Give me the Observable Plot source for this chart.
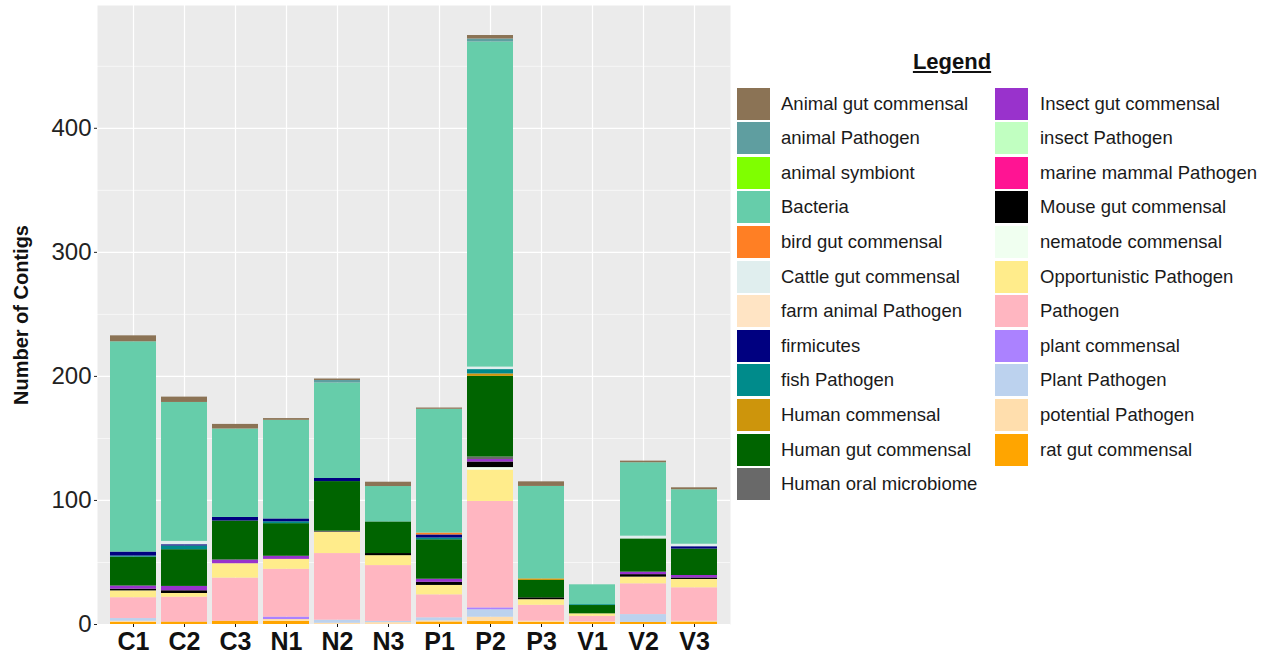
<!DOCTYPE html>
<html>
<head>
<meta charset="utf-8">
<script src="https://cdn.jsdelivr.net/npm/d3@7"></script>
<script src="https://cdn.jsdelivr.net/npm/@observablehq/plot@0.6"></script>
<style>
  html, body { margin: 0; padding: 0; background: #fff; }
  #wrap { position: relative; width: 1271px; height: 659px; overflow: hidden; font-family: "Liberation Sans", Arial, sans-serif; }
  #chart { position: absolute; left: 0; top: 0; }
  #legend-title { position: absolute; left: 952px; top: 49px; transform: translateX(-50%); font-size: 22px; font-weight: bold; text-decoration: underline; color: #111; }
  .sw { position: absolute; width: 33px; height: 32px; }
  .lab { position: absolute; font-size: 18.5px; color: #1a1a1a; line-height: 20px; white-space: nowrap; }
</style>
</head>
<body>
<div id="wrap">
  <div id="chart"></div>
  <div id="legend-title">Legend</div>
  <div id="legend"></div>
</div>
<script>
const samples = ["C1","C2","C3","N1","N2","N3","P1","P2","P3","V1","V2","V3"];
const categories = [
  "Animal gut commensal","animal Pathogen","animal symbiont","Bacteria","bird gut commensal",
  "Cattle gut commensal","farm animal Pathogen","firmicutes","fish Pathogen","Human commensal",
  "Human gut commensal","Human oral microbiome","Insect gut commensal","insect Pathogen",
  "marine mammal Pathogen","Mouse gut commensal","nematode commensal","Opportunistic Pathogen",
  "Pathogen","plant commensal","Plant Pathogen","potential Pathogen","rat gut commensal"
];
const colors = [
  "#8B7355","#5F9EA0","#7FFF00","#66CDAA","#FF7F24",
  "#E0EEEE","#FFE4C4","#000080","#008B8B","#CD950C",
  "#006400","#696969","#9932CC","#C1FFC1",
  "#FF1493","#000000","#F0FFF0","#FFEC8B",
  "#FFB6C1","#AB82FF","#BCD2EE","#FFDEAD","#FFA500"
];
// counts per sample, in the category order above
const C1 = [4.8,0,0,169.5,0,0,0,3.2,0.9,0,23.3,0,2.5,0,0,1.4,0,5.5,16.8,0,2.2,0.8,1.8];
const C2 = [4.3,0,0,112,0,2.7,0,1,3,0,29.6,0,3.5,0,0,2.2,0,3,20,0,0,0,2];
const C3 = [3.7,0,0,71.3,0,0,0,2.9,0,0,31.4,0,3,0,0,0,0,11.6,34.7,0,0,0,2.7];
const N1 = [1.4,0,0,79.5,0,0,0,2.3,1.5,0,26.3,0,2.5,0,0,0,0,8,38.5,2,0,1.5,2.5];
const N2 = [1.2,2,0,77,0,0,0,2.5,0,0,40,1,0,0,0,0,0,17,53.7,0,2.5,1,0];
const N3 = [3.5,0,0,28.5,0,0,0,0,0,0,25.5,0,0,0,0,1.7,0,8,45,0,1,1.5,0];
const P1 = [1,0,0,99.8,1.5,0,0,2.5,1.4,0,31.8,0,2.5,0,0,2.5,0,7.6,18.5,0,2.5,0.9,2];
const P2 = [2.8,2.4,0,262.1,0,2,0,0,3.5,2,65,2,2,0,0,4.5,2,25.3,85.8,1.5,6,3.5,2.4];
const P3 = [3.7,0,0,74.5,0,0,0,0,0,1.3,14,0,0,0,0,1.5,0,4.5,12.8,0,0,1,1.7];
const V1 = [0,0,0,16,0,0,0,0,0.7,0,6.7,0,0,0,0,0,0,2,4.5,0,0,0.4,1.7];
const V2 = [1.3,0,0,59.2,0,2.2,0,0,0,0,26.8,0,2,0,0,2,0,5.4,24.8,0,6.3,0,1.7];
const V3 = [1.6,0,0,43.9,0,2,0,1.9,0,0,21.3,0,2,0,0,1.2,0,6.7,27,0,0,0.6,2];
const yTicks = [0,100,200,300,400];
const yMinor = [50,150,250,350,450];
const yLabel = "Number of Contigs";

const bySample = {C1,C2,C3,N1,N2,N3,P1,P2,P3,V1,V2,V3};
const rows = [];
for (const s of samples) {
  // stack from the last category (bottom) to the first (top)
  for (let i = categories.length - 1; i >= 0; i--) {
    const v = bySample[s][i];
    if (v > 0) rows.push({sample: s, category: categories[i], count: v});
  }
}

const chart = Plot.plot({
  width: 740,
  height: 659,
  marginLeft: 97,
  marginRight: 10,
  marginTop: 5,
  marginBottom: 35,
  style: {fontFamily: "'Liberation Sans', Arial, sans-serif", background: "transparent", overflow: "visible"},
  x: {domain: samples, paddingInner: 0.1, paddingOuter: 0.15, label: null},
  y: {domain: [0, 499], label: null},
  color: {domain: categories, range: colors},
  marks: [
    Plot.frame({fill: "#EBEBEB", stroke: null}),
    Plot.gridY({ticks: yMinor, stroke: "#fff", strokeOpacity: 1, strokeWidth: 0.6}),
    Plot.gridY({ticks: yTicks, stroke: "#fff", strokeOpacity: 1, strokeWidth: 1.2}),
    Plot.gridX({stroke: "#fff", strokeOpacity: 1, strokeWidth: 1.2}),
    Plot.barY(rows, {x: "sample", y: "count", fill: "category", order: null}),
    Plot.axisY({ticks: yTicks, tickSize: 3, tickPadding: 3, fontSize: 24, color: "#222", label: null}),
    Plot.axisX({tickSize: 3, tickPadding: 5, fontSize: 25, fontWeight: "bold", color: "#111", label: null}),
    Plot.text([yLabel], {frameAnchor: "left", dx: -76, rotate: -90, fontSize: 20, fontWeight: "bold", fill: "#111", textAnchor: "middle", lineAnchor: "middle"})
  ]
});
document.getElementById("chart").appendChild(chart);

// legend, two columns filled top to bottom
const legend = document.getElementById("legend");
const perCol = 12;
categories.forEach((c, i) => {
  const col = Math.floor(i / perCol), row = i % perCol;
  const cy = 103.5 + row * 34.6;
  const sw = document.createElement("div");
  sw.className = "sw";
  sw.style.left = (col === 0 ? 737 : 995) + "px";
  sw.style.top = (cy - 16) + "px";
  sw.style.background = colors[i];
  legend.appendChild(sw);
  const lb = document.createElement("div");
  lb.className = "lab";
  lb.style.left = (col === 0 ? 781 : 1040) + "px";
  lb.style.top = (cy - 10) + "px";
  lb.textContent = c;
  legend.appendChild(lb);
});
</script>
</body>
</html>
